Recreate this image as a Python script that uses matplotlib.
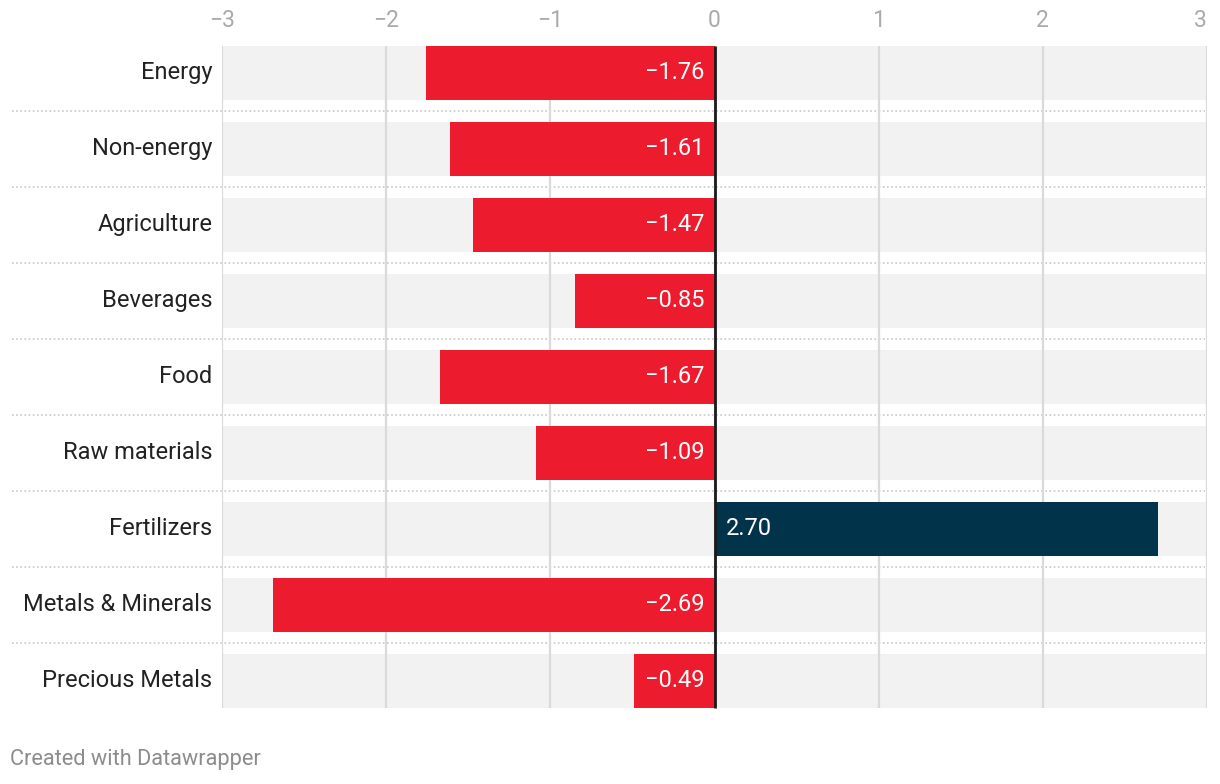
import matplotlib.pyplot as plt
import matplotlib.transforms as mtransforms
import numpy as np

categories = ["Energy", "Non-energy", "Agriculture", "Beverages", "Food",
              "Raw materials", "Fertilizers", "Metals & Minerals", "Precious Metals"]
values = [-1.76, -1.61, -1.47, -0.85, -1.67, -1.09, 2.70, -2.69, -0.49]
x_ticks = [-3, -2, -1, 0, 1, 2, 3]
x_tick_labels = ["\u22123", "\u22122", "\u22121", "0", "1", "2", "3"]

RED = "#ec1c2e"
NAVY = "#01334a"
BAND = "#f2f2f2"

plt.rcParams['font.family'] = ['Roboto', 'DejaVu Sans']

fig = plt.figure(figsize=(12.2, 7.84), dpi=100)
ax = fig.add_axes([222 / 1220, 1 - 719 / 784, (1207 - 222) / 1220, (719 - 35) / 784])

y = np.arange(len(categories))
h = 0.71
y_lo, y_hi = -h / 2, len(y) - 1 + h / 2

# grey background bands across the whole range
ax.barh(y, [x_ticks[-1] - x_ticks[0]] * len(y), left=x_ticks[0], height=h,
        color=BAND, zorder=0)

# vertical gridlines
ax.vlines(x_ticks, y_lo, y_hi, color="#dadada", lw=1.6, zorder=1)

# dotted separators between rows, reaching into the label area
trans = mtransforms.blended_transform_factory(fig.transFigure, ax.transData)
for i in range(len(y) - 1):
    ax.plot([12 / 1220, 1205 / 1220], [i + 0.5, i + 0.5], transform=trans,
            color="#c8c8c8", lw=1.2, ls=(0, (1, 1.5)), clip_on=False, zorder=0.5)

colors = [NAVY if v > 0 else RED for v in values]
ax.barh(y, values, height=h, color=colors, zorder=2)

ax.vlines(0, y_lo, y_hi, color="#1a1a1a", lw=2, zorder=3)

# category labels and value labels
lab_trans = mtransforms.blended_transform_factory(ax.transAxes, ax.transData)
for yi, name, v in zip(y, categories, values):
    ax.annotate(name, (0, yi), xycoords=lab_trans, xytext=(-7, 0.3),
                textcoords="offset points", ha="right", va="center",
                color="#222222", fontsize=17, annotation_clip=False)
    txt = f"{abs(v):.2f}"
    if v < 0:
        ax.annotate("\u2212" + txt, (0, yi), xytext=(-7, 0.3), textcoords="offset points",
                    ha="right", va="center", color="white", fontsize=17, zorder=4)
    else:
        ax.annotate(txt, (0, yi), xytext=(8, 0.3), textcoords="offset points",
                    ha="left", va="center", color="white", fontsize=17, zorder=4)

ax.set_xlim(x_ticks[0], x_ticks[-1])
ax.set_ylim(len(y) - 0.5, -0.5)
ax.set_yticks([])

ax.xaxis.tick_top()
ax.set_xticks(x_ticks)
ax.set_xticklabels(x_tick_labels, fontsize=16.5, color="#aaaaaa")
ax.tick_params(axis="x", length=0, pad=2)
ax.get_xticklabels()[-1].set_ha("right")

for s in ax.spines.values():
    s.set_visible(False)

fig.text(10 / 1220, 1 - 760 / 784, "Created with Datawrapper", fontsize=15.7,
         color="#8c8c8c", ha="left", va="center")

fig.savefig("out.png", dpi=100, facecolor="white")
